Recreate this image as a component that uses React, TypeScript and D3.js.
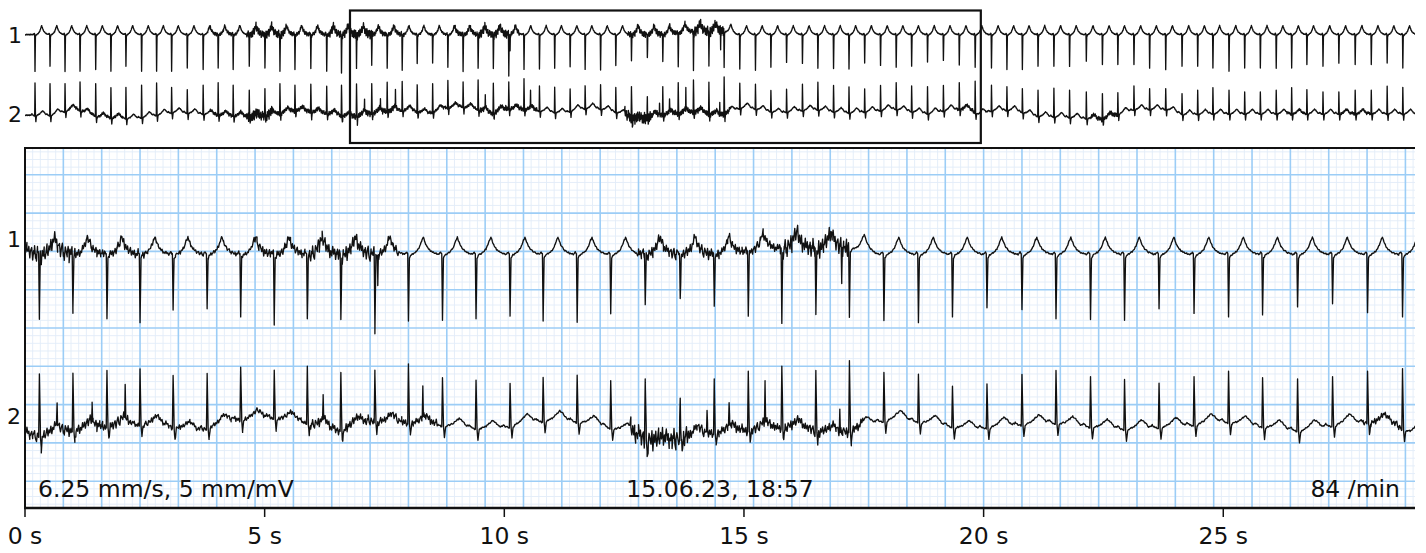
import React from 'react';
import * as d3 from 'd3';

// ---------------- data ----------------
const recordingLength = 63.9; // seconds shown in the overview strip
const windowStart = 14.94; // start of the enlarged 29 s window (recording seconds)
const windowLength = 29;

// R-wave / QRS times, recording seconds
const beatTimes = [
  0.46, 1.15, 1.84, 2.53, 3.25, 3.95, 4.64, 5.36, 6.05, 6.74, 7.46, 8.19, 8.88, 9.57, 10.31, 11.03, 11.72, 12.41, 13.14, 13.87, 14.55,
  15.24, 15.94, 16.65, 17.34, 18.03, 18.74, 19.44, 20.14, 20.83, 21.53, 22.24, 22.94, 23.65, 24.35, 25.06, 25.75, 26.46, 27.16, 27.88, 28.61,
  29.32, 30.03, 30.73, 31.44, 32.14, 32.86, 33.58, 34.29, 35.01, 35.74, 36.45, 37.17, 37.88, 38.6, 39.33, 40.05, 40.76, 41.49, 42.22, 42.95, 43.68,
  44.43, 45.14, 45.85, 46.57, 47.3, 48.02, 48.79, 49.53, 50.24, 50.98, 51.7, 52.44, 53.19, 53.91, 54.61, 55.35, 56.07, 56.79, 57.52, 58.23,
  58.93, 59.67, 60.4, 61.15, 61.89, 62.62, 63.34,
];

// lead 1: depth of the S spike (mV, relative to baseline)
const lead1S = [
  -1.83, -1.58, -1.83, -1.83, -1.75, -1.83, -1.58, -1.83, -1.83, -1.83, -1.67, -1.75, -1.67, -1.75, -1.58, -1.67, -1.83, -1.75, -1.67, -1.83, -1.92,
  -1.61, -1.39, -1.68, -1.78, -1.45, -1.42, -1.63, -1.74, -1.68, -1.7, -1.87, -1.74, -1.72, -1.68, -1.61, -1.74, -1.77, -1.55, -1.31, -1.15,
  -1.35, -1.61, -1.8, -1.57, -1.59, -1.72, -1.78, -1.63, -1.39, -1.44, -1.68, -1.7, -1.72, -1.42, -1.54, -1.63, -1.57, -1.37, -1.28, -1.52, -1.63,
  -1.67, -1.75, -1.75, -1.58, -1.58, -1.58, -1.33, -1.5, -1.5, -1.5, -1.67, -1.75, -1.58, -1.58, -1.67, -1.83, -1.67, -1.67, -1.67, -1.67,
  -1.5, -1.58, -1.42, -1.5, -1.5, -1.42, -1.67,
];

// lead 2: height of the R spike (mV, relative to baseline)
const lead2R = [
  1.53, 1.5, 1.5, 1.58, 1.5, 1.3, 1.3, 1.42, 1.53, 1.3, 1.2, 1.42, 1.47, 1.42, 1.17, 1.25, 1.42, 1.42, 1.47, 1.37, 1.42,
  1.48, 1.5, 1.57, 1.57, 1.44, 1.44, 1.65, 1.58, 1.68, 1.52, 1.58, 1.65, 1.38, 1.32, 1.22, 1.39, 1.44, 1.29, 1.26, 0.85,
  1.23, 1.55, 1.68, 1.48, 1.83, 1.52, 1.46, 1.16, 1.22, 1.46, 1.57, 1.41, 1.32, 1.22, 1.41, 1.55, 1.38, 1.35, 1.41, 1.55, 1.55,
  1.42, 1.33, 1.25, 1.17, 1.25, 1.17, 1.08, 1.0, 1.0, 1.37, 1.25, 1.25, 1.0, 1.17, 1.3, 1.17, 1.08, 1.08, 1.17, 1.3,
  1.2, 1.08, 1.08, 1.17, 1.17, 1.37, 1.3,
];

// beat morphology [dt (s), mV]; null marks the main spike (S or R)
const lead1Template: [number, number | null][] = [
  [-0.08, 0], [-0.035, 0.06], [-0.015, 0.02], [0, null], [0.02, -0.1], [0.05, -0.02], [0.1, 0.02], [0.16, 0.07],
  [0.21, 0.15], [0.25, 0.26], [0.28, 0.37], [0.31, 0.45], [0.34, 0.34], [0.38, 0.22], [0.43, 0.13], [0.5, 0.06],
  [0.58, 0.02], [0.64, 0],
];
const lead2Template: [number, number | null][] = [
  [-0.2, 0], [-0.14, 0.06], [-0.09, 0], [-0.015, -0.04], [0, null], [0.022, -0.05], [0.04, -0.32], [0.065, -0.05],
  [0.1, 0], [0.2, 0.05], [0.28, 0.14], [0.35, 0.22], [0.42, 0.15], [0.5, 0.03], [0.56, 0],
];

// baseline wander knots [s, mV]
const lead1Wander: [number, number][] = [[0, 0], [29.5, 0], [30.6, 0.15], [32.2, 0.15], [32.7, 0], [63.9, 0]];
const lead2Wander: [number, number][] = [
  [0.3, -0.08], [1.2, -0.08], [2.3, 0.25], [3.4, -0.17], [5.0, -0.25], [6.9, 0.08], [9.2, -0.08], [10.7, -0.17], [12.5, 0.17], [14.0, 0],
  [15.04, -0.17], [15.88, 0], [16.71, 0.13], [17.65, 0.18], [18.53, 0], [19.36, 0.3], [20.05, 0.35], [20.68, 0.25], [21.45, 0], [22.14, 0.25],
  [23.18, 0.2], [24.02, 0.1], [24.75, 0.04], [25.41, 0.22], [26.1, 0.3], [26.83, 0.17], [27.46, 0], [28.19, -0.35], [29.02, -0.09], [29.86, 0],
  [30.9, 0.1], [31.94, -0.09], [32.67, 0.22], [33.13, 0.32], [33.97, 0.17], [34.66, 0.04], [35.34, 0.13], [36.33, 0.22], [36.95, 0.13],
  [37.95, 0.04], [39.25, 0.15], [39.87, 0.25], [40.5, 0.15], [41.54, 0], [42.58, 0.22], [43.42, 0.22], [43.84, -0.04],
  [44.5, 0.17], [45.5, 0.17], [46.5, -0.12], [48, -0.18], [49.5, -0.28], [50.2, -0.05], [51, 0.22], [52.5, 0.22], [53.3, -0.05], [54.5, 0], [63.9, 0],
];

// noisy stretches [start s, end s, amplitude mV]
const lead1Noise: [number, number, number][] = [
  [8.4, 9.9, 0.08], [10.2, 12.0, 0.2], [12.0, 14.0, 0.1], [14.0, 14.94, 0.2], [14.94, 15.98, 0.22], [15.98, 17.44, 0.12],
  [17.44, 19.7, 0.05], [19.7, 20.82, 0.12], [20.82, 22.34, 0.2], [22.34, 22.74, 0.12], [27.71, 29.44, 0.15], [29.44, 30.69, 0.12],
  [30.69, 32.14, 0.25],
];
const lead2Noise: [number, number, number][] = [
  [2.0, 4.5, 0.06], [8.5, 10.2, 0.08], [10.2, 11.4, 0.25], [11.4, 14.94, 0.1], [14.94, 17.13, 0.14], [17.13, 18.17, 0.07],
  [18.17, 20.82, 0.06], [20.82, 22.34, 0.12], [22.34, 23.54, 0.1], [27.56, 28.81, 0.28], [28.81, 32.42, 0.13], [42.84, 43.69, 0.08],
  [49.0, 50.3, 0.1], [58, 59, 0.05], [60.5, 62, 0.06],
];
// extra artefact spikes [s, mV]
const lead1Artifacts: [number, number][] = [[22.3, -0.8], [31.98, -0.83]];
const lead2Artifacts: [number, number][] = [
  [15.61, 0.58], [16.34, 0.5], [17.03, 0.87], [21.16, 0.65], [23.24, 0.78], [29.17, 0.55], [29.63, 0.58], [30.38, 0.97], [31.94, 0.58],
];
const jitter = [
  0.62, -0.81, 0.33, 0.97, -0.48, -0.92, 0.71, 0.18, -0.37, 0.88, -1.0, 0.52, -0.21, 0.79, -0.66, 0.09, 0.94, -0.58, 0.41, -0.29,
  0.74, -0.86, 0.14, -0.45, 0.83, -0.12, 0.56, -0.73, 0.27,
];

const tickValues = [0, 5, 10, 15, 20, 25];
const tickLabels = ['0 s', '5 s', '10 s', '15 s', '20 s', '25 s'];
const leadNames = ['1', '2'];
const speedText = '6.25 mm/s, 5 mm/mV';
const dateText = '15.06.23, 18:57';
const rateText = '84 /min';
const nominalBaseline = -0.38;

// ---------------- signal assembly ----------------
type Pt = { t: number; v: number };

function buildLead(
  template: [number, number | null][],
  amps: number[],
  wander: [number, number][],
  noise: [number, number, number][],
  artifacts: [number, number][],
): Pt[] {
  const wanderAt = d3.scaleLinear().domain(wander.map((d) => d[0])).range(wander.map((d) => d[1])).clamp(true);
  const pts: { t: number; g: number }[] = [];
  const step = 0.02;
  const n = Math.floor(recordingLength / step);
  for (let i = 0; i <= n; i++) pts.push({ t: i * step, g: i });
  beatTimes.forEach((tb) => template.forEach(([dt]) => pts.push({ t: tb + dt, g: -1 })));
  artifacts.forEach(([ta]) => [-0.012, 0, 0.012].forEach((d) => pts.push({ t: ta + d, g: -1 })));
  const valid = pts.filter((p) => p.t >= 0 && p.t <= recordingLength).sort((a, b) => a.t - b.t);
  const t0 = template[0][0];
  const t1 = template[template.length - 1][0];
  const peakVals = beatTimes.map((tb, i) => amps[i] - wanderAt(tb));
  const beatAt = (t: number) => {
    let s = 0;
    for (let b = 0; b < beatTimes.length; b++) {
      const d = t - beatTimes[b];
      if (d < t0 || d > t1) continue;
      for (let k = 0; k < template.length - 1; k++) {
        const [da, va] = template[k];
        const [db, vb] = template[k + 1];
        if (d >= da && d <= db) {
          const a = va === null ? peakVals[b] : va;
          const c = vb === null ? peakVals[b] : vb;
          const f = db === da ? 0 : (d - da) / (db - da);
          s += a + (c - a) * f;
          break;
        }
      }
    }
    return s;
  };
  const artAt = (t: number) => {
    let s = 0;
    artifacts.forEach(([ta, amp]) => {
      const f = 1 - Math.abs(t - ta) / 0.012;
      if (f > 0) s += amp * f;
    });
    return s;
  };
  const noiseAt = (t: number, g: number) => {
    if (g < 0) return 0;
    let amp = 0.02;
    noise.forEach(([a, b, m]) => {
      if (t >= a && t <= b) amp = Math.max(amp, m);
    });
    return amp * jitter[g % jitter.length];
  };
  return valid.map((p) => ({
    t: p.t,
    v: nominalBaseline + wanderAt(p.t) + beatAt(p.t) + artAt(p.t) + noiseAt(p.t, p.g),
  }));
}

const leads = [
  buildLead(lead1Template, lead1S, lead1Wander, lead1Noise, lead1Artifacts),
  buildLead(lead2Template, lead2R, lead2Wander, lead2Noise, lead2Artifacts),
];

// ---------------- layout ----------------
const W = 1426;
const H = 553;
const plotLeft = 25;
const plotRight = 1415;
const plotTop = 148;
const plotBottom = 508;
const font = 'DejaVu Sans, sans-serif';

export default function App() {
  const xMain = d3.scaleLinear().domain([0, windowLength]).range([plotLeft, plotRight]);
  const yMain = d3.scaleLinear().domain([-4.7, 4.7]).range([plotBottom, plotTop]);
  const mainOffsets = [2.3, -2.3];
  const xTop = d3.scaleLinear().domain([0, recordingLength]).range([plotLeft, plotRight]);
  const topCenters = [27, 106];
  const topScales = topCenters.map((c) => d3.scaleLinear().domain([-3, 3]).range([c + 60, c - 60]));

  const minorV = d3.range(1, Math.floor(windowLength / 0.16) + 1).map((k) => ({ t: k * 0.16, major: k % 5 === 0 }));
  const minorH = d3.range(-23, 24).map((k) => ({ v: k * 0.2, major: k % 5 === 0 }));
  const minorColor = '#e2ecf8';
  const majorColor = '#9ccdf6';

  const mainPaths = leads.map((pts, i) => {
    const sub = pts.filter((p) => p.t >= windowStart - 0.05 && p.t <= windowStart + windowLength + 0.05);
    return d3
      .line<Pt>()
      .x((d) => xMain(d.t - windowStart))
      .y((d) => yMain(mainOffsets[i] + d.v))(sub) as string;
  });
  const topPaths = leads.map((pts, i) =>
    d3
      .line<Pt>()
      .x((d) => xTop(d.t))
      .y((d) => topScales[i](d.v))(pts) as string,
  );

  const boxX0 = xTop(windowStart);
  const boxX1 = xTop(windowStart + windowLength);

  return (
    <svg width={W} height={H} style={{ position: 'absolute', left: 0, top: 0, background: '#fff' }} fontFamily={font}>
      <defs>
        <clipPath id="plotClip">
          <rect x={plotLeft} y={plotTop} width={plotRight - plotLeft} height={plotBottom - plotTop} />
        </clipPath>
        <clipPath id="topClip">
          <rect x={plotLeft} y={0} width={plotRight - plotLeft} height={146} />
        </clipPath>
      </defs>

      {/* overview strip */}
      <g clipPath="url(#topClip)">
        {topPaths.map((d, i) => (
          <path key={i} d={d} fill="none" stroke="#111" strokeWidth={1.35} strokeLinejoin="round" />
        ))}
      </g>
      {leadNames.map((name, i) => (
        <text key={name} x={22} y={topScales[i](nominalBaseline) + 1} textAnchor="end" dominantBaseline="central" fontSize={22} fill="#111">
          {name}
        </text>
      ))}
      <rect x={boxX0} y={10.5} width={boxX1 - boxX0} height={132.5} fill="none" stroke="#111" strokeWidth={2.2} />

      {/* ECG paper grid */}
      <g clipPath="url(#plotClip)">
        {minorV.filter((d) => !d.major).map((d) => (
          <line key={'mv' + d.t} x1={xMain(d.t)} x2={xMain(d.t)} y1={plotTop} y2={plotBottom} stroke={minorColor} strokeWidth={0.9} />
        ))}
        {minorH.filter((d) => !d.major).map((d) => (
          <line key={'mh' + d.v} x1={plotLeft} x2={plotRight} y1={yMain(d.v)} y2={yMain(d.v)} stroke={minorColor} strokeWidth={0.9} />
        ))}
        {minorV.filter((d) => d.major).map((d) => (
          <line key={'Mv' + d.t} x1={xMain(d.t)} x2={xMain(d.t)} y1={plotTop} y2={plotBottom} stroke={majorColor} strokeWidth={1.6} />
        ))}
        {minorH.filter((d) => d.major).map((d) => (
          <line key={'Mh' + d.v} x1={plotLeft} x2={plotRight} y1={yMain(d.v)} y2={yMain(d.v)} stroke={majorColor} strokeWidth={1.6} />
        ))}
        {mainPaths.map((d, i) => (
          <path key={i} d={d} fill="none" stroke="#111" strokeWidth={1.35} strokeLinejoin="round" />
        ))}
      </g>

      {/* frame */}
      <line x1={plotLeft} x2={plotRight} y1={plotTop} y2={plotTop} stroke="#111" strokeWidth={2} />
      <line x1={plotLeft} x2={plotLeft} y1={plotTop - 1} y2={plotBottom + 1} stroke="#111" strokeWidth={2} />
      <line x1={plotLeft - 1} x2={plotRight} y1={plotBottom} y2={plotBottom} stroke="#111" strokeWidth={2.4} />

      {leadNames.map((name, i) => (
        <text key={'m' + name} x={21} y={yMain(mainOffsets[i])} textAnchor="end" dominantBaseline="central" fontSize={22} fill="#111">
          {name}
        </text>
      ))}

      {tickValues.map((t, i) => (
        <g key={t}>
          <line x1={xMain(t)} x2={xMain(t)} y1={plotBottom} y2={plotBottom + 9} stroke="#111" strokeWidth={1.5} />
          <text x={xMain(t)} y={544} textAnchor="middle" fontSize={23.5} fill="#111">
            {tickLabels[i]}
          </text>
        </g>
      ))}

      <text x={plotLeft + 13} y={497} fontSize={23.5} fill="#111">
        {speedText}
      </text>
      <text x={(plotLeft + plotRight) / 2} y={497} textAnchor="middle" fontSize={23.5} fill="#111">
        {dateText}
      </text>
      <text x={plotRight - 15} y={497} textAnchor="end" fontSize={23.5} fill="#111">
        {rateText}
      </text>
    </svg>
  );
}
